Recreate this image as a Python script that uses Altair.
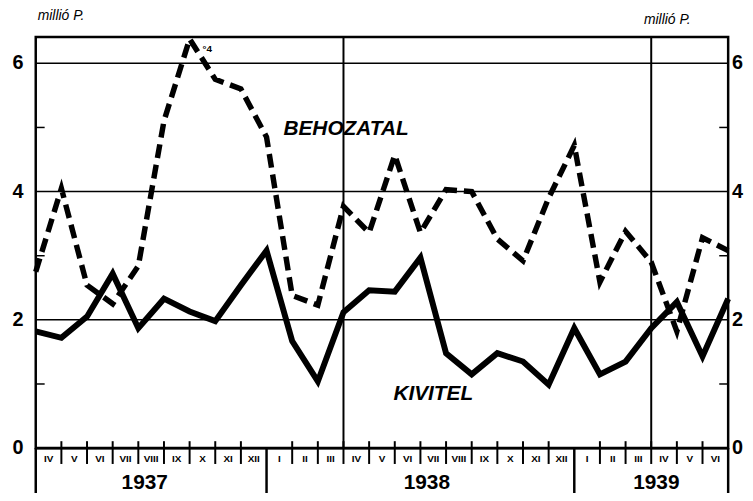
import altair as alt
import pandas as pd

# ---- data ----
roman = ["IV", "V", "VI", "VII", "VIII", "IX", "X", "XI", "XII",
         "I", "II", "III", "IV", "V", "VI", "VII", "VIII", "IX", "X", "XI", "XII",
         "I", "II", "III", "IV", "V", "VI"]
years = ["1937", "1938", "1939"]
year_centers = [4.25, 15.25, 24.2]
year_bounds = [0, 9, 21, 27]
fiscal_lines = [12, 24]

kivitel = [1.82, 1.72, 2.05, 2.72, 1.87, 2.33, 2.13, 1.98, 2.54, 3.08, 1.67, 1.04,
           2.12, 2.46, 2.44, 2.97, 1.48, 1.15, 1.48, 1.35, 0.99, 1.87, 1.15, 1.35,
           1.87, 2.28, 1.43, 2.33]
behozatal = [2.75, 4.05, 2.54, 2.25, 2.84, 5.10, 6.38, 5.75, 5.60, 4.85, 2.38, 2.23,
             3.77, 3.36, 4.57, 3.36, 4.03, 4.00, 3.26, 2.92, 3.90, 4.72, 2.59, 3.38,
             2.90, 1.82, 3.28, 3.08]
y_labels = [0, 2, 4, 6]
grid_vals = [2, 4, 6]
minor_vals = [1, 3, 5]

W, H = 699, 415
XMAX, YMAX = 27, 6.41
FONT = "Liberation Sans"

xs = alt.Scale(domain=[0, XMAX], nice=False, zero=False)
ys = alt.Scale(domain=[0, YMAX], nice=False)

def X(f):
    return alt.X(f, type="quantitative", scale=xs, axis=None)

def Y(f):
    return alt.Y(f, type="quantitative", scale=ys, axis=None)

lines_df = pd.DataFrame({"i": list(range(len(kivitel))), "kiv": kivitel, "beh": behozatal})

solid = alt.Chart(lines_df).mark_line(color="black", strokeWidth=6, strokeJoin="miter",
                                      clip=False).encode(x=X("i"), y=Y("kiv"))
dashed = alt.Chart(lines_df).mark_line(color="black", strokeWidth=5.5, strokeDash=[14, 7],
                                       strokeJoin="miter").encode(x=X("i"), y=Y("beh"))

grid = alt.Chart(pd.DataFrame({"v": grid_vals})).mark_rule(color="black", strokeWidth=1.5).encode(
    y=Y("v"), x=alt.value(0), x2=alt.value(W))
zero = alt.Chart(pd.DataFrame({"v": [0]})).mark_rule(color="black", strokeWidth=3).encode(
    y=Y("v"), x=alt.value(0), x2=alt.value(W))

vlines = alt.Chart(pd.DataFrame({"m": fiscal_lines})).mark_rule(color="black", strokeWidth=2).encode(
    x=X("m"), y=alt.value(0), y2=alt.value(H))

minor_l = alt.Chart(pd.DataFrame({"v": minor_vals})).mark_rule(color="black", strokeWidth=1.5).encode(
    y=Y("v"), x=alt.value(0), x2=alt.value(9))
minor_r = alt.Chart(pd.DataFrame({"v": minor_vals})).mark_rule(color="black", strokeWidth=1.5).encode(
    y=Y("v"), x=alt.value(W - 9), x2=alt.value(W))

tick_pos = [m for m in range(1, 27) if m not in year_bounds]
mticks = alt.Chart(pd.DataFrame({"m": tick_pos})).mark_rule(color="black", strokeWidth=2).encode(
    x=X("m"), y=alt.value(H - 7), y2=alt.value(H + 16))
ysep = alt.Chart(pd.DataFrame({"m": year_bounds})).mark_rule(color="black", strokeWidth=2.5).encode(
    x=X("m"), y=alt.value(H), y2=alt.value(H + 60))

mlab = alt.Chart(pd.DataFrame({"m": [k + 0.5 for k in range(len(roman))], "t": roman})).mark_text(
    font=FONT, fontSize=10, fontWeight="bold", color="black", baseline="middle").encode(
    x=X("m"), y=alt.value(H + 11), text="t:N")
ylab = alt.Chart(pd.DataFrame({"m": year_centers, "t": years})).mark_text(
    font=FONT, fontSize=21, fontWeight="bold", color="black", baseline="alphabetic").encode(
    x=X("m"), y=alt.value(H + 41), text="t:N")

ldf = pd.DataFrame({"v": y_labels, "t": [str(v) for v in y_labels]})
ytl = alt.Chart(ldf).mark_text(font=FONT, fontSize=20, fontWeight="bold", color="black",
                               align="center", baseline="middle").encode(
    y=Y("v"), x=alt.value(-18), text="t:N")
ytr = alt.Chart(ldf).mark_text(font=FONT, fontSize=20, fontWeight="bold", color="black",
                               align="left", baseline="middle").encode(
    y=Y("v"), x=alt.value(W + 4), text="t:N")

unit_l = alt.Chart(pd.DataFrame({"t": ["millió P."]})).mark_text(
    font=FONT, fontSize=14, fontStyle="italic", color="black", align="left", baseline="middle").encode(
    x=alt.value(2), y=alt.value(-21), text="t:N")
unit_r = alt.Chart(pd.DataFrame({"t": ["millió P."]})).mark_text(
    font=FONT, fontSize=14, fontStyle="italic", color="black", align="left", baseline="middle").encode(
    x=alt.value(614), y=alt.value(-17), text="t:N")

ann = alt.Chart(pd.DataFrame({"m": [12.1, 15.5], "v": [4.97, 0.85], "t": ["BEHOZATAL", "KIVITEL"]})).mark_text(
    font=FONT, fontSize=21, fontStyle="italic", fontWeight="bold", color="black").encode(
    x=X("m"), y=Y("v"), text="t:N")
peak = alt.Chart(pd.DataFrame({"m": [6.5], "v": [6.22], "t": ["°4"]})).mark_text(
    font=FONT, fontSize=10, fontWeight="bold", color="black", align="left").encode(
    x=X("m"), y=Y("v"), text="t:N")

chart = alt.layer(grid, vlines, minor_l, minor_r, mticks, ysep, zero, dashed, solid,
                  mlab, ylab, ytl, ytr, unit_l, unit_r, ann, peak).properties(
    width=W, height=H,
    autosize=alt.AutoSizeParams(type="none"),
    padding={"left": 28, "top": 27, "right": 17, "bottom": 43},
    background="white",
).configure_view(stroke="black", strokeWidth=2.5)

chart.save("out.html", embed_options={"renderer": "svg", "actions": False})
